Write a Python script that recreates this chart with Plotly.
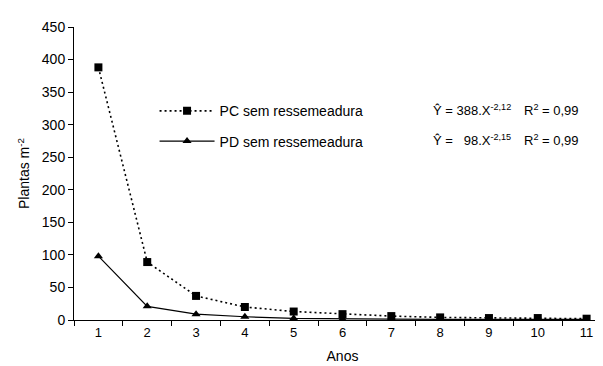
import plotly.graph_objects as go

anos = ["1", "2", "3", "4", "5", "6", "7", "8", "9", "10", "11"]
pc_vals = [388, 89, 37, 20, 13, 9, 6, 4, 3, 3, 2]
pd_vals = [98, 21, 9, 5, 2.5, 1.5, 1.2, 1, 1, 1, 1]
pc_name = "PC sem ressemeadura"
pd_name = "PD sem ressemeadura"
eq_pc = "Ŷ = 388.X<sup>-2,12</sup>"
eq_pd = "Ŷ =\u00a0\u00a0 98.X<sup>-2,15</sup>"
r2_pc = "R<sup>2</sup> = 0,99"
r2_pd = "R<sup>2</sup> = 0,99"

FONT = "Liberation Sans, Arial, sans-serif"

fig = go.Figure()
fig.add_trace(go.Scatter(
    x=anos, y=pc_vals, name=pc_name, mode="lines+markers", legendgroup="pc",
    line=dict(color="black", width=1.6, dash="2px,3px"),
    marker=dict(symbol="square", size=8, color="black"),
))
fig.add_trace(go.Scatter(
    x=anos, y=pd_vals, name=pd_name, mode="lines+markers", legendgroup="pd",
    line=dict(color="black", width=1.2),
    marker=dict(symbol="triangle-up", size=8, color="black"),
))

ann_font = dict(family=FONT, size=13, color="black")

fig.update_layout(
    width=603, height=366,
    margin=dict(l=66, r=0, t=19, b=54),
    paper_bgcolor="white", plot_bgcolor="white",
    font=dict(family=FONT, size=13, color="black"),
    showlegend=True,
    legend=dict(x=0.15, y=0.767, xanchor="left", yanchor="top",
                bgcolor="rgba(0,0,0,0)", font=dict(size=14),
                traceorder="grouped", tracegroupgap=9, itemwidth=55),
    xaxis=dict(
        type="category", tickson="boundaries", ticks="outside", ticklen=5,
        tickcolor="black", showline=True, linecolor="black", linewidth=1,
        showgrid=False, zeroline=False, range=[-0.5, 10.5],
        title=dict(text="Anos", standoff=12, font=dict(size=14)),
        tickfont=dict(size=13),
    ),
    yaxis=dict(
        range=[0, 450], dtick=50, ticks="outside", ticklen=5, tickcolor="black",
        showline=True, linecolor="black", linewidth=1, showgrid=False,
        zeroline=False,
        title=dict(text="Plantas m<sup>-2</sup>", standoff=8, font=dict(size=14)),
        tickfont=dict(size=14),
    ),
    annotations=[
        dict(text=eq_pc, x=0.665, y=0.718, xref="paper", yref="paper",
             xanchor="left", yanchor="middle", showarrow=False, font=ann_font),
        dict(text=eq_pd, x=0.665, y=0.615, xref="paper", yref="paper",
             xanchor="left", yanchor="middle", showarrow=False, font=ann_font),
        dict(text=r2_pc, x=0.835, y=0.718, xref="paper", yref="paper",
             xanchor="left", yanchor="middle", showarrow=False, font=ann_font),
        dict(text=r2_pd, x=0.835, y=0.615, xref="paper", yref="paper",
             xanchor="left", yanchor="middle", showarrow=False, font=ann_font),
    ],
)

fig.write_html("out.html")
